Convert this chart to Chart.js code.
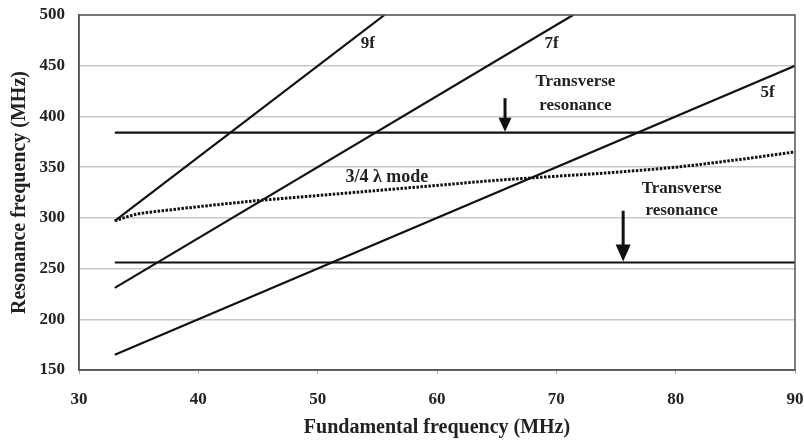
<!DOCTYPE html>
<html>
<head>
<meta charset="utf-8">
<script src="https://cdn.jsdelivr.net/npm/chart.js@4"></script>
<style>
  html, body { margin: 0; padding: 0; background: #fff; }
  #wrap { width: 804px; height: 442px; }
</style>
</head>
<body>
<div id="wrap"><canvas id="resonance" width="804" height="442"></canvas></div>
<script>
// values (MHz)
var harmonicX = [33, 90];
var fiveF = [165, 450];
var sevenFX = [33, 71.4];
var sevenF = [231, 500];
var nineFX = [33, 55.6];
var nineF = [297, 500];
var transverseHigh = [384, 384];
var transverseLow = [256, 256];
var modeX = [33, 34, 35, 37, 40, 45, 50, 55, 60, 65, 70, 75, 80, 85, 90];
var modeY = [297, 301, 304, 307, 311, 317, 322, 327, 332, 337, 341, 345, 350, 357, 365];
var xTicks = [30, 40, 50, 60, 70, 80, 90];
var yTicks = [150, 200, 250, 300, 350, 400, 450, 500];

function pts(xs, ys) {
  return xs.map(function(x, i) { return {x: x, y: ys[i]}; });
}

function solid(label, data) {
  return {
    label: label,
    data: data,
    showLine: true,
    borderColor: '#111',
    borderWidth: 2.2,
    pointRadius: 0,
    fill: false,
    tension: 0
  };
}

var serif = '"Liberation Serif", "DejaVu Serif", serif';

// labels and arrows inside the plot
var notes = {
  id: 'notes',
  afterDatasetsDraw: function(chart) {
    var ctx = chart.ctx;
    var xs = chart.scales.x, ys = chart.scales.y;
    var area = chart.chartArea;
    ctx.save();
    // frame
    ctx.strokeStyle = '#555';
    ctx.lineWidth = 1.5;
    ctx.strokeRect(area.left, area.top, area.right - area.left, area.bottom - area.top);

    ctx.fillStyle = '#222';
    ctx.textAlign = 'center';
    ctx.textBaseline = 'middle';
    ctx.font = 'bold 17px ' + serif;
    function text(s, x, y) { ctx.fillText(s, xs.getPixelForValue(x), ys.getPixelForValue(y)); }
    text('9f', 54.2, 472);
    text('7f', 69.6, 472);
    text('5f', 87.7, 423);
    text('Transverse', 71.6, 434);
    text('resonance', 71.6, 411);
    text('Transverse', 80.5, 329);
    text('resonance', 80.5, 307);
    ctx.font = 'bold 18px ' + serif;
    text('3/4 \u03bb mode', 55.8, 340);

    function arrow(x, y0, y1, hw, hl) {
      var px = xs.getPixelForValue(x);
      var p0 = ys.getPixelForValue(y0), p1 = ys.getPixelForValue(y1);
      ctx.strokeStyle = '#111';
      ctx.lineWidth = 3;
      ctx.beginPath();
      ctx.moveTo(px, p0);
      ctx.lineTo(px, p1 - hl + 2);
      ctx.stroke();
      ctx.fillStyle = '#111';
      ctx.beginPath();
      ctx.moveTo(px - hw, p1 - hl);
      ctx.lineTo(px + hw, p1 - hl);
      ctx.lineTo(px, p1);
      ctx.closePath();
      ctx.fill();
    }
    arrow(65.7, 418, 385, 6.5, 14);
    arrow(75.6, 307, 257, 7.5, 17);
    ctx.restore();
  }
};

new Chart('resonance', {
  type: 'scatter',
  data: {
    datasets: [
      solid('9f', pts(nineFX, nineF)),
      solid('7f', pts(sevenFX, sevenF)),
      solid('5f', pts(harmonicX, fiveF)),
      solid('Transverse resonance (upper)', pts(harmonicX, transverseHigh)),
      solid('Transverse resonance (lower)', pts(harmonicX, transverseLow)),
      {
        label: '3/4 \u03bb mode',
        data: pts(modeX, modeY),
        showLine: true,
        borderColor: '#111',
        borderWidth: 3,
        borderDash: [2.5, 1.5],
        pointRadius: 0,
        fill: false,
        cubicInterpolationMode: 'monotone'
      }
    ]
  },
  options: {
    responsive: false,
    animation: false,
    layout: { padding: { top: 15, right: 9, left: 8, bottom: 2 } },
    plugins: {
      legend: { display: false },
      tooltip: { enabled: false }
    },
    scales: {
      x: {
        type: 'linear',
        min: 30,
        max: 90,
        afterBuildTicks: function(s) { s.ticks = xTicks.map(function(v) { return {value: v}; }); },
        afterFit: function(s) { s.height = 70; s.paddingLeft = 0; s.paddingRight = 0; },
        border: { color: '#555', width: 1.5 },
        grid: { drawOnChartArea: false, color: '#aaa', tickLength: 4 },
        ticks: { color: '#222', font: { family: serif, weight: 'bold', size: 17 }, padding: 15 },
        title: {
          display: true,
          text: 'Fundamental frequency (MHz)',
          color: '#222',
          font: { family: serif, weight: 'bold', size: 20 },
          padding: { top: 0, bottom: 0 }
        }
      },
      y: {
        min: 150,
        max: 500,
        afterBuildTicks: function(s) { s.ticks = yTicks.map(function(v) { return {value: v}; }); },
        afterFit: function(s) { s.width = 71; s.paddingTop = 0; s.paddingBottom = 0; },
        border: { color: '#555', width: 1.5 },
        grid: { color: '#c8c8c8', lineWidth: 1.5, tickLength: 0 },
        ticks: { color: '#222', font: { family: serif, weight: 'bold', size: 17 }, padding: 14 },
        title: {
          display: true,
          text: 'Resonance frequency (MHz)',
          color: '#222',
          font: { family: serif, weight: 'bold', size: 20 },
          padding: { top: 0, bottom: 0 }
        }
      }
    }
  },
  plugins: [notes]
});
</script>
</body>
</html>
